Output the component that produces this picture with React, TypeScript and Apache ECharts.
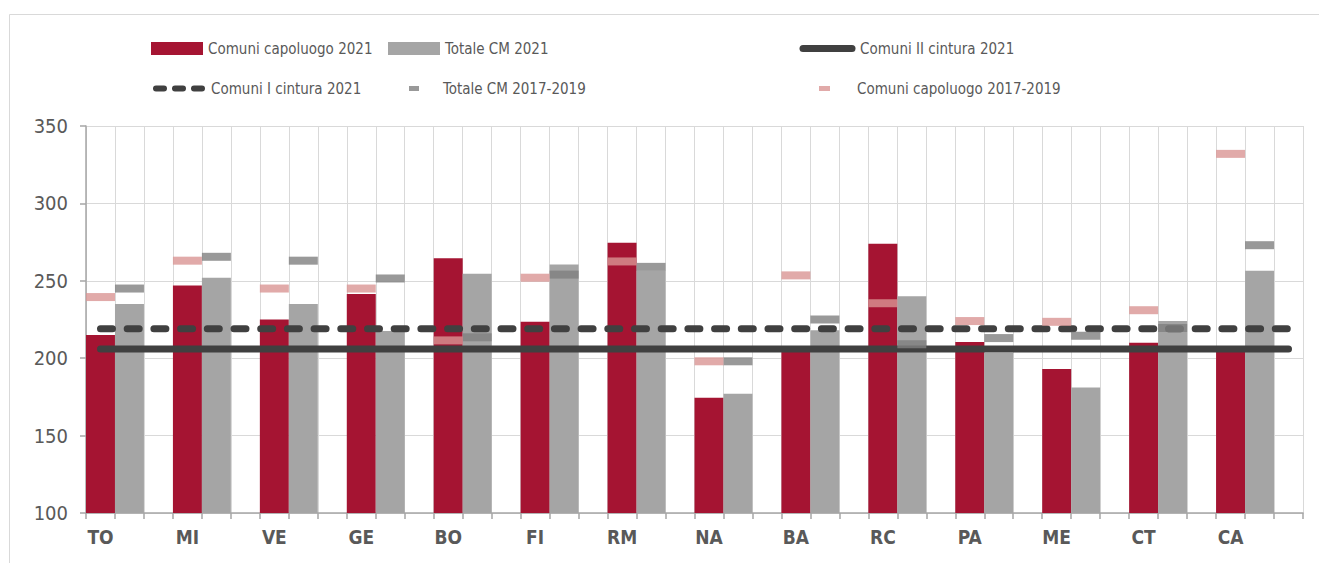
import React, { useEffect, useRef } from "react";
import * as echarts from "echarts";

const cities = ["TO", "MI", "VE", "GE", "BO", "FI", "RM", "NA", "BA", "RC", "PA", "ME", "CT", "CA"];
const capoluogo2021 = [215, 247, 225, 241.5, 264.5, 223.5, 274.5, 174.5, 207, 274, 210.5, 193, 210, 205];
const totaleCM2021 = [235, 252, 235, 217.5, 254.5, 260.5, 256.5, 177, 218, 240, 203.5, 181, 224, 256.5];
const totaleCM1719 = [245, 265.5, 263, 251.5, 213.5, 254, 259, 198, 225, 209, 213, 214.5, 219.5, 273];
const capoluogo1719 = [239.5, 263, 245, 245, 211.5, 252, 262.5, 198, 253.5, 235.5, 224, 223.5, 231, 332];
const cinturaII2021 = 206;
const cinturaI2021 = 219;
const yTicks = { min: 100, max: 350, interval: 50 };

const names = {
  cap21: "Comuni capoluogo 2021",
  tot21: "Totale CM 2021",
  c2: "Comuni II cintura 2021",
  c1: "Comuni I cintura 2021",
  tot1719: "Totale CM 2017-2019",
  cap1719: "Comuni capoluogo 2017-2019",
};

const FONT = "'DejaVu Sans Condensed', 'DejaVu Sans', sans-serif";
const RED = "#a51432";
const GRAY = "#a5a5a5";
const DARK = "#404040";
const MARK_GRAY = "#7f7f7f";
const PINK = "#d99594";

export default function App() {
  const ref = useRef<HTMLDivElement>(null);
  useEffect(() => {
    if (!ref.current) return;
    const chart = echarts.init(ref.current, null, { renderer: "svg" });
    const axisCats = cities.flatMap((c) => [c, c + "_b", c + "_c"]);
    const slot = (vals: number[], off: number) => vals.map((v, i) => [3 * i + off, v]);
    const last = axisCats.length - 1;
    const legendText = { fontSize: 15, color: "#595959", fontFamily: FONT };
    const row1 = 36;
    const row2 = 76;
    const option: any = {
      animation: false,
      backgroundColor: "#ffffff",
      graphic: [
        {
          type: "rect",
          z: -10,
          shape: { x: 9.5, y: 14.5, width: 1400, height: 700 },
          style: { fill: "none", stroke: "#d9d9d9", lineWidth: 1 },
          silent: true,
        },
      ],
      grid: { left: 86, right: 16, top: 126, bottom: 50 },
      legend: [
        { data: [{ name: names.cap21, icon: "rect" }], left: 146, top: row1, itemWidth: 52, itemHeight: 13, textStyle: legendText },
        { data: [{ name: names.tot21, icon: "rect" }], left: 383, top: row1, itemWidth: 52, itemHeight: 13, textStyle: legendText },
        {
          data: [{ name: names.c2 }],
          left: 794.5,
          top: row1,
          itemWidth: 49,
          itemHeight: 13,
          itemStyle: { opacity: 0 },
          lineStyle: { width: 7 },
          textStyle: { ...legendText, padding: [0, 0, 0, 3] },
        },
        {
          data: [{ name: names.c1 }],
          left: 148,
          top: row2,
          itemWidth: 47,
          itemHeight: 13,
          itemStyle: { opacity: 0 },
          lineStyle: { width: 6, type: [8, 11] },
          textStyle: { ...legendText, padding: [0, 0, 0, 3] },
        },
        { data: [{ name: names.tot1719, icon: "rect" }], left: 404, top: row2, itemWidth: 10, itemHeight: 5, textStyle: { ...legendText, padding: [0, 0, 0, 19] } },
        { data: [{ name: names.cap1719, icon: "rect" }], left: 814, top: row2, itemWidth: 11, itemHeight: 5, textStyle: { ...legendText, padding: [0, 0, 0, 22] } },
      ],
      xAxis: {
        type: "category",
        data: axisCats,
        boundaryGap: true,
        axisLine: { lineStyle: { color: "#a6a6a6", width: 1.5 } },
        axisTick: { show: true, interval: 0, length: 6, lineStyle: { color: "#a6a6a6", width: 1.5 } },
        splitLine: { show: true, interval: 0, lineStyle: { color: "#d9d9d9", width: 1 } },
        axisLabel: {
          interval: (i: number) => i % 3 === 0,
          formatter: (v: string) => v.split("_")[0],
          fontSize: 19,
          fontWeight: "bold",
          color: "#595959",
          fontFamily: FONT,
          margin: 14,
        },
      },
      yAxis: {
        type: "value",
        min: yTicks.min,
        max: yTicks.max,
        interval: yTicks.interval,
        axisLine: { show: true, lineStyle: { color: "#a6a6a6", width: 1.5 } },
        axisTick: { show: true, length: 6, lineStyle: { color: "#a6a6a6", width: 1.5 } },
        splitLine: { show: true, lineStyle: { color: "#d9d9d9", width: 1 } },
        axisLabel: { fontSize: 20, color: "#595959", fontFamily: FONT, margin: 18 },
      },
      series: [
        {
          name: names.cap21,
          type: "bar",
          data: slot(capoluogo2021, 0),
          barWidth: "100%",
          barGap: "-100%",
          itemStyle: { color: RED },
          z: 2,
        },
        {
          name: names.tot21,
          type: "bar",
          data: slot(totaleCM2021, 1),
          barWidth: "100%",
          barGap: "-100%",
          itemStyle: { color: GRAY },
          z: 2,
        },
        {
          name: names.c2,
          type: "line",
          data: [[0, cinturaII2021], [last, cinturaII2021]],
          symbol: "none",
          lineStyle: { color: DARK, width: 7, cap: "round" },
          itemStyle: { color: DARK },
          z: 3,
        },
        {
          name: names.c1,
          type: "line",
          data: [[0, cinturaI2021], [last, cinturaI2021]],
          symbol: "none",
          lineStyle: { color: DARK, width: 7, type: [12, 14.7], cap: "round" },
          itemStyle: { color: DARK },
          z: 3,
        },
        {
          name: names.tot1719,
          type: "scatter",
          data: slot(totaleCM1719, 1),
          symbol: "rect",
          symbolSize: [29, 8],
          itemStyle: { color: MARK_GRAY },
          z: 4,
        },
        {
          name: names.cap1719,
          type: "scatter",
          data: slot(capoluogo1719, 0),
          symbol: "rect",
          symbolSize: [29, 8],
          itemStyle: { color: PINK },
          z: 4,
        },
      ],
    };
    chart.setOption(option);
    return () => chart.dispose();
  }, []);
  return <div ref={ref} style={{ position: "fixed", left: 0, top: 0, width: 1319, height: 563 }} />;
}
